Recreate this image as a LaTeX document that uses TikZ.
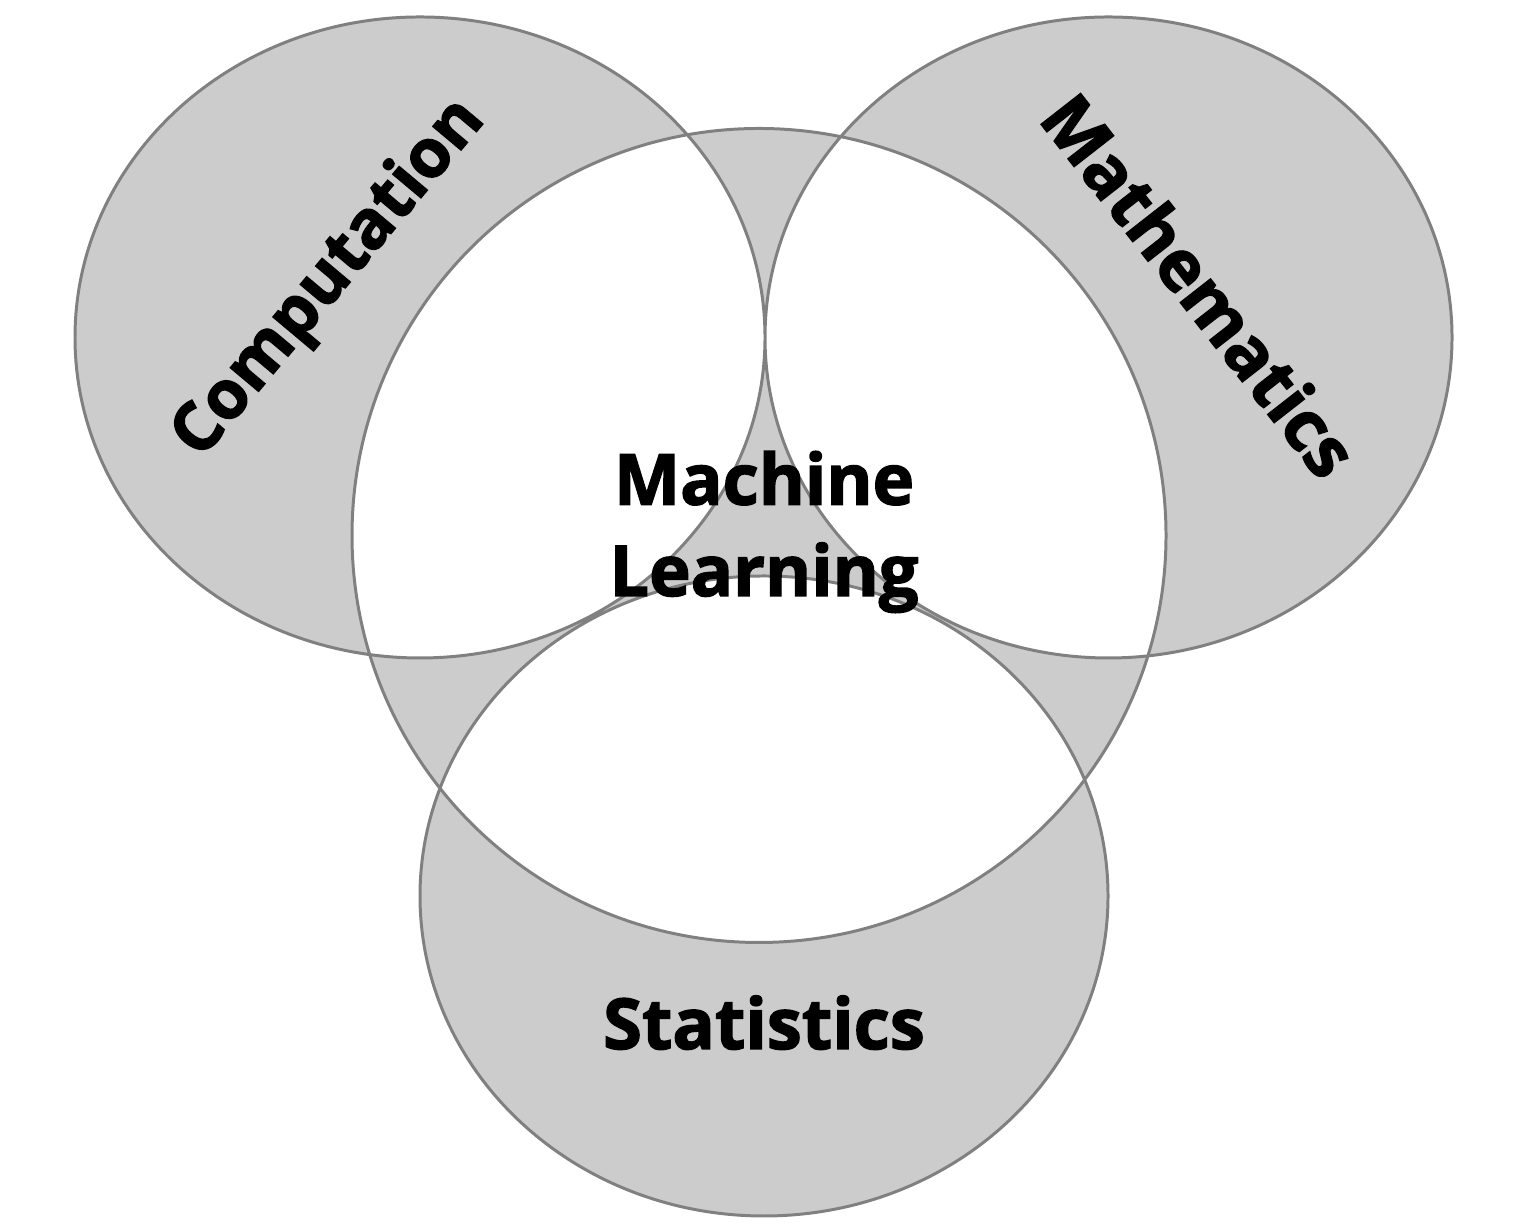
\documentclass[tikz,border=0pt]{standalone}
\usepackage{fontspec}
\setmainfont{Open Sans}[BoldFeatures={FakeBold=2}]
\usepackage{tikz}
\usetikzlibrary{positioning}
\usepackage{xcolor}
\definecolor{ringline}{HTML}{808080}
\definecolor{ringfill}{HTML}{CCCCCC}

\begin{document}
\begin{tikzpicture}[field/.style={font=\fontsize{20}{26}\selectfont\bfseries,inner sep=0pt}]
\useasboundingbox (0,0) rectangle (15.25,12.25);
\filldraw[draw=ringline,fill=ringfill,line width=0.85pt,even odd rule]
  (4.20,8.875) ellipse [x radius=3.45,y radius=3.205]
  (11.085,8.875) ellipse [x radius=3.435,y radius=3.205]
  (7.64,3.29) ellipse [x radius=3.44,y radius=3.20]
  (7.59,6.895) circle [radius=4.07];
\node[field,rotate=50,scale=0.96] (comp) at (3.30,9.46) {Computation};
\node[field,rotate=-52] (math) at (12.00,9.40) {Mathematics};
\node[field,align=center] (ml) at (7.64,6.93) {Machine\\Learning};
\node[field,anchor=base] (stats) at (7.64,1.76) {Statistics};
\end{tikzpicture}
\end{document}
